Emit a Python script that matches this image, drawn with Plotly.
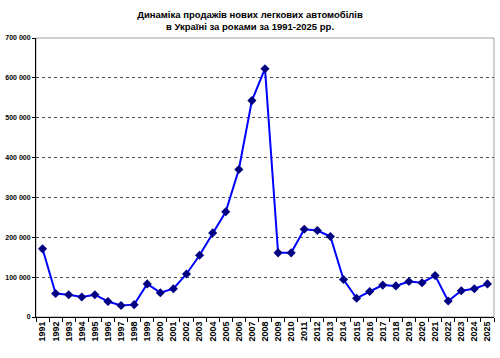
import plotly.graph_objects as go

years = [str(y) for y in range(1991, 2026)]
sales = [171000, 59000, 56000, 50000, 56000, 39000, 29000, 31000, 83000, 61000,
         71000, 108000, 155000, 211000, 264000, 370000, 543000, 623000, 161000, 161000,
         220000, 217000, 202000, 94000, 47000, 64000, 80000, 78000, 89000, 86000,
         104000, 40000, 66000, 71000, 83000]
y_ticks = [0, 100000, 200000, 300000, 400000, 500000, 600000, 700000]
y_labels = ["0", "100 000", "200 000", "300 000", "400 000", "500 000", "600 000", "700 000"]

fig = go.Figure()
fig.add_trace(go.Scatter(
    x=years, y=sales, mode="lines+markers",
    line=dict(color="#0000FF", width=2),
    marker=dict(symbol="diamond", size=7, color="#000080"),
    cliponaxis=False,
))

fig.update_layout(
    width=500, height=358,
    margin=dict(l=36, r=6, t=38, b=41),
    paper_bgcolor="white", plot_bgcolor="white",
    showlegend=False,
    font=dict(family="Arial, Liberation Sans, sans-serif", color="black"),
    title=dict(
        text="<b>Динаміка продажів нових легкових автомобілів<br>в Україні за роками за 1991-2025 рр.</b>",
        x=0.5, xanchor="center", y=0.95, yanchor="top",
        font=dict(size=9.5, color="black"),
    ),
    shapes=[dict(type="rect", xref="paper", yref="paper", x0=0, x1=1, y0=0, y1=1,
                 line=dict(color="#A0A0A0", width=1), layer="below")],
)

fig.update_xaxes(
    type="category", tickangle=-90, tickson="boundaries",
    ticks="outside", ticklen=4, tickcolor="black",
    showline=True, linecolor="black", linewidth=1,
    showgrid=False,
    tickfont=dict(size=9, color="black", weight="bold"),
    range=[-0.5, len(years) - 0.5],
)
fig.update_yaxes(
    range=[0, 700000], tickvals=y_ticks, ticktext=y_labels,
    ticks="outside", ticklen=3, tickcolor="black",
    showline=True, linecolor="black", linewidth=1,
    showgrid=True, gridcolor="#505050", griddash="dot", gridwidth=1,
    zeroline=False,
    tickfont=dict(size=7, color="black", weight="bold"),
)

fig.write_html("out.html", config={"displayModeBar": False},
               post_script="document.body.style.margin='0';document.body.style.padding='0';")
